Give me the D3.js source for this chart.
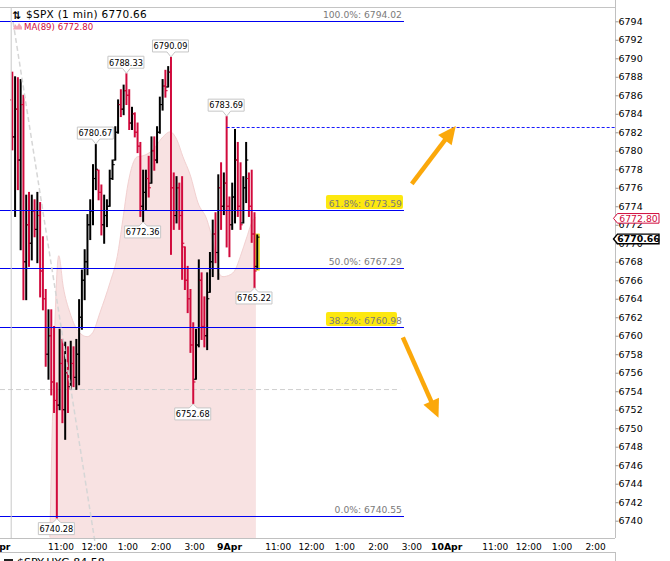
<!DOCTYPE html>
<html>
<head>
<meta charset="utf-8">
<script src="https://cdn.jsdelivr.net/npm/d3@7"></script>
<style>
  body { margin: 0; background: #fff; }
  svg { display: block; }
  text { font-family: "DejaVu Sans", Verdana, sans-serif; }
</style>
</head>
<body>
<svg id="chart" width="670" height="561"></svg>
<script>
// ---- data (5-minute bars, $SPX) ----
// sessions: start minute (trading minutes since 8Apr 9:30) and number of bars
var sessions = [{ start: 0, count: 78 }, { start: 390, count: 11 }];

var opens = [
  6785.5, 6781.5, 6784.5, 6779.0, 6785.0, 6768.0, 6772.0, 6770.0, 6773.5, 6771.5,
  6773.0, 6767.0, 6764.0, 6758.0, 6760.0, 6755.0, 6753.0, 6752.5, 6757.0, 6752.0,
  6756.0, 6754.5, 6757.0, 6755.5, 6758.0, 6762.0, 6766.0, 6768.0, 6772.0, 6773.5,
  6777.0, 6777.9, 6775.5, 6772.0, 6773.0, 6774.0, 6777.0, 6779.0, 6782.0, 6785.0,
  6784.5, 6786.5, 6786.0, 6783.0, 6784.0, 6782.0, 6780.5, 6774.0, 6775.5, 6777.0,
  6776.5, 6780.0, 6779.0, 6782.0, 6785.0, 6787.0, 6786.9, 6788.5, 6776.0, 6773.0,
  6776.0, 6773.0, 6769.6, 6766.0, 6764.0, 6759.0, 6755.3, 6759.0, 6766.0, 6761.0,
  6760.0, 6764.7, 6768.0, 6771.0, 6769.0, 6776.0, 6774.0, 6776.5,
  6774.0, 6772.0, 6775.0, 6779.0, 6774.0, 6772.2, 6776.0, 6777.0, 6774.0, 6771.0, 6767.5
];
var highs = [
  6788.5, 6788.0, 6787.9, 6787.7, 6786.0, 6775.2, 6775.5, 6775.2, 6774.7, 6775.5,
  6774.4, 6770.7, 6765.0, 6762.8, 6762.8, 6761.0, 6754.9, 6760.7, 6759.6, 6759.3,
  6758.8, 6759.4, 6758.8, 6759.6, 6763.9, 6767.1, 6769.3, 6773.1, 6774.7, 6778.5,
  6780.67, 6777.9, 6776.3, 6775.2, 6774.7, 6777.9, 6779.0, 6782.6, 6785.5, 6786.6,
  6787.1, 6788.33, 6786.6, 6784.7, 6784.1, 6783.0, 6780.9, 6777.9, 6777.9, 6779.4,
  6781.5, 6781.5, 6782.6, 6785.8, 6787.7, 6788.7, 6789.1, 6790.09, 6777.6, 6777.2,
  6776.5, 6777.2, 6769.6, 6767.5, 6765.0, 6761.4, 6760.7, 6768.2, 6766.8, 6764.2,
  6766.8, 6769.0, 6772.5, 6773.3, 6777.4, 6778.7, 6777.6, 6783.69,
  6775.0, 6776.5, 6782.3, 6780.9, 6778.7, 6777.2, 6780.9, 6777.6, 6777.9, 6773.3, 6770.9
];
var lows = [
  6780.1, 6772.9, 6775.8, 6769.3, 6763.9, 6763.9, 6767.5, 6768.2, 6770.7, 6767.9,
  6764.2, 6762.8, 6756.7, 6755.3, 6753.6, 6751.7, 6740.28, 6752.0, 6750.6, 6748.8,
  6751.7, 6754.2, 6754.5, 6754.2, 6754.7, 6760.7, 6763.9, 6766.6, 6770.4, 6772.0,
  6775.8, 6774.7, 6770.9, 6770.0, 6771.8, 6774.0, 6776.9, 6779.0, 6781.9, 6783.7,
  6783.9, 6785.0, 6782.3, 6782.3, 6781.5, 6779.8, 6772.9, 6772.36, 6773.6, 6775.0,
  6776.5, 6777.9, 6778.7, 6781.9, 6784.4, 6785.8, 6786.9, 6768.8, 6771.5, 6772.2,
  6771.5, 6766.1, 6765.0, 6762.5, 6758.2, 6752.68, 6755.3, 6758.8, 6759.6, 6758.8,
  6758.5, 6764.7, 6766.4, 6767.9, 6766.1, 6771.5, 6773.1, 6769.6,
  6768.55, 6771.5, 6772.2, 6772.9, 6771.5, 6772.2, 6774.4, 6772.9, 6770.1, 6765.22, 6767.2
];
var closes = [
  6781.5, 6784.5, 6779.0, 6785.0, 6768.0, 6772.0, 6770.0, 6773.5, 6771.5, 6773.0,
  6767.0, 6764.0, 6758.0, 6760.0, 6755.0, 6753.0, 6752.5, 6757.0, 6752.0, 6756.0,
  6754.5, 6757.0, 6755.5, 6758.0, 6762.0, 6766.0, 6768.0, 6772.0, 6773.5, 6777.0,
  6778.0, 6775.5, 6772.0, 6773.0, 6774.0, 6777.0, 6778.5, 6782.0, 6785.0, 6784.5,
  6786.5, 6786.0, 6783.0, 6784.0, 6782.0, 6780.5, 6774.0, 6775.5, 6777.0, 6776.0,
  6780.0, 6779.0, 6782.0, 6785.0, 6787.0, 6786.5, 6788.5, 6776.0, 6773.0, 6776.0,
  6773.0, 6770.0, 6766.0, 6764.0, 6759.0, 6755.0, 6759.0, 6766.0, 6761.0, 6760.0,
  6764.0, 6768.0, 6771.0, 6769.0, 6776.0, 6774.0, 6776.5, 6774.0,
  6772.0, 6775.0, 6779.0, 6774.0, 6772.0, 6776.0, 6779.0, 6774.0, 6771.0, 6767.0, 6770.66
];

// MA(89) shaded area (minute, value)
var maMinutes = [70, 86, 94, 106, 119, 137, 147, 160, 178, 191, 201, 210, 227, 237, 255, 273,
  286, 298, 309, 322, 336, 352, 363, 372, 381, 394, 403, 412, 424, 435, 440];
var maValues = [6738.2, 6768.65, 6765.3, 6762.5, 6760.66, 6759.9, 6760.34, 6762.5, 6765.74, 6768.55,
  6772.54, 6776.3, 6779.35, 6779.45, 6780.1, 6781.5, 6782.05, 6781.2, 6779.35, 6777.4, 6774.38,
  6772.54, 6770.06, 6766.93, 6766.39, 6766.6, 6767.14, 6768.55, 6770.71, 6772.54, 6772.80];

// Fibonacci retracement levels
var fibPct = ['100.0%', '61.8%', '50.0%', '38.2%', '0.0%'];
var fibPrice = [6794.02, 6773.59, 6767.29, 6760.98, 6740.55];
var fibMarked = [false, true, false, true, false];

// swing labels (bar indices)
var swingHighs = [30, 41, 57, 77];
var swingLows = [16, 47, 65, 87];

// drawn lines
var resistanceLevel = 6782.62;
var supportDash = 6754.18;
var trendLine = [[4, 6793.9], [152, 6737.3]];
var arrows = [
  { t0: 720, p0: 6776.43, t1: 799, p1: 6782.69 },
  { t0: 704, p0: 6759.83, t1: 768, p1: 6751.13 }
];

// axes
var priceTicks = [6740, 6742, 6744, 6746, 6748, 6750, 6752, 6754, 6756, 6758, 6760, 6762, 6764,
  6766, 6768, 6770, 6772, 6774, 6776, 6778, 6780, 6782, 6784, 6786, 6788, 6790, 6792, 6794];
var timeTicks = [0, 90, 150, 210, 270, 330, 390, 480, 540, 600, 660, 720, 780, 870, 930, 990, 1050];
var timeLabels = ['8Apr', '11:00', '12:00', '1:00', '2:00', '3:00', '9Apr', '11:00', '12:00',
  '1:00', '2:00', '3:00', '10Apr', '11:00', '12:00', '1:00', '2:00'];

var lastMA = 6772.80;
var lastClose = 6770.66;

// ---- drawing ----
var svg = d3.select('#chart');
var plot = { right: 615, top: 7, bottom: 538 };
var red = '#d10a3c';

var x = d3.scaleLinear().domain([0, 1050]).range([10.9, 595.5]);
var y = d3.scaleLinear().domain([6740, 6794]).range([520.7, 21.3]);

svg.append('defs').append('clipPath').attr('id', 'clip')
  .append('rect').attr('x', 0).attr('y', plot.top)
  .attr('width', plot.right).attr('height', plot.bottom - plot.top);

var bars = [];
sessions.forEach(function (s) {
  for (var k = 0; k < s.count; k++) bars.push({ t: s.start + k * 5 + 2.5 });
});
bars.forEach(function (b, i) {
  b.o = opens[i]; b.h = highs[i]; b.l = lows[i]; b.c = closes[i];
  b.up = i === 0 ? b.c >= b.o : b.c >= closes[i - 1];
});

var g = svg.append('g').attr('clip-path', 'url(#clip)');

// MA area
var ma = maMinutes.map(function (m, i) { return { t: m, v: maValues[i] }; });
g.append('path').datum(ma)
  .attr('d', d3.area().x(function (d) { return x(d.t); })
    .y0(plot.bottom).y1(function (d) { return y(d.v); }).curve(d3.curveMonotoneX))
  .attr('fill', '#f8e2e2');
g.append('path').datum(ma)
  .attr('d', d3.line().x(function (d) { return x(d.t); })
    .y(function (d) { return y(d.v); }).curve(d3.curveMonotoneX))
  .attr('fill', 'none').attr('stroke', '#f2d0d0').attr('stroke-width', 1);

// frame lines
svg.append('line').attr('x1', 0).attr('x2', plot.right).attr('y1', plot.top + 0.5).attr('y2', plot.top + 0.5)
  .attr('stroke', '#c4c4c4');
svg.append('line').attr('x1', x(0) + 0.3).attr('x2', x(0) + 0.3).attr('y1', plot.top).attr('y2', plot.bottom)
  .attr('stroke', '#c8c8c8');

// dashed support, trendline
g.append('line').attr('x1', 0).attr('x2', x(699)).attr('y1', y(supportDash)).attr('y2', y(supportDash))
  .attr('stroke', '#cfcfcf').attr('stroke-dasharray', '5,3');
svg.append('line')
  .attr('x1', x(trendLine[0][0])).attr('y1', y(trendLine[0][1]))
  .attr('x2', x(trendLine[1][0])).attr('y2', y(trendLine[1][1]))
  .attr('stroke', '#d6d6d6').attr('stroke-width', 1.5).attr('stroke-dasharray', '5,3');

// last bar highlight
var last = bars[bars.length - 1];
g.append('rect').attr('x', x(last.t) - 2.3).attr('width', 4.6)
  .attr('y', y(last.h) - 1).attr('height', y(last.l) - y(last.h) + 2)
  .attr('fill', '#fff24d').attr('stroke', '#e6d200').attr('stroke-width', 0.6);

// bars
var bg = g.append('g').attr('class', 'bars');
bars.forEach(function (b) {
  var cx = x(b.t), col = b.up ? '#000' : red;
  bg.append('line').attr('x1', cx).attr('x2', cx).attr('y1', y(b.h) - 0.5).attr('y2', y(b.l) + 0.5)
    .attr('stroke', col).attr('stroke-width', 2);
  bg.append('line').attr('x1', cx - 2.2).attr('x2', cx).attr('y1', y(b.o)).attr('y2', y(b.o))
    .attr('stroke', col).attr('stroke-width', 1.1);
  bg.append('line').attr('x1', cx).attr('x2', cx + 2.2).attr('y1', y(b.c)).attr('y2', y(b.c))
    .attr('stroke', col).attr('stroke-width', 1.1);
});

// fib lines and labels
var fibEnd = x(706);
fibPrice.forEach(function (p, i) {
  var yy = Math.round(y(p)) + 0.5;
  var label = fibPct[i] + ': ' + p.toFixed(2);
  if (fibMarked[i]) {
    var w = i === 3 ? 71 : 77;
    g.append('rect').attr('x', fibEnd - 78).attr('y', yy - 15.5).attr('width', w).attr('height', 14)
      .attr('rx', 2).attr('fill', '#fde80f');
  }
  g.append('line').attr('x1', 0).attr('x2', fibEnd).attr('y1', yy).attr('y2', yy)
    .attr('stroke', '#0000f0').attr('stroke-width', 1);
  g.append('text').attr('x', fibEnd - 2).attr('y', yy - 3.5).attr('text-anchor', 'end')
    .attr('font-size', 9.2).attr('fill', '#7a7a7a').text(label);
});

// resistance dashed
g.append('line').attr('x1', x(bars[77].t)).attr('x2', plot.right)
  .attr('y1', Math.round(y(resistanceLevel)) + 0.5).attr('y2', Math.round(y(resistanceLevel)) + 0.5)
  .attr('stroke', '#1a1aff').attr('stroke-dasharray', '3,2');

// swing labels
function swingLabel(i, isHigh) {
  var b = bars[i], cx = x(b.t), val = isHigh ? b.h : b.l;
  var tip = y(val) + (isHigh ? -0.5 : 0.5);
  var bw = 36, bh = 12, x0 = cx - bw / 2 - 0.5, x1 = cx + bw / 2 - 0.5;
  var path, ty;
  if (isHigh) {
    var yb = tip - 5, yt = yb - bh;
    path = 'M' + x0 + ',' + yt + 'H' + x1 + 'V' + yb + 'H' + (cx + 4) + 'L' + cx + ',' + tip +
      'L' + (cx - 4) + ',' + yb + 'H' + x0 + 'Z';
    ty = yt + 9.3;
  } else {
    var yt2 = tip + 4, yb2 = yt2 + bh;
    path = 'M' + x0 + ',' + yt2 + 'H' + (cx - 4) + 'L' + cx + ',' + tip + 'L' + (cx + 4) + ',' + yt2 +
      'H' + x1 + 'V' + yb2 + 'H' + x0 + 'Z';
    ty = yt2 + 9.3;
  }
  svg.append('path').attr('d', path).attr('fill', '#fff').attr('stroke', '#c6c6c6');
  svg.append('text').attr('x', cx - 0.5).attr('y', ty).attr('text-anchor', 'middle')
    .attr('font-size', 8.2).attr('fill', '#000').text(val.toFixed(2));
}
swingHighs.forEach(function (i) { swingLabel(i, true); });
swingLows.forEach(function (i) { swingLabel(i, false); });

// arrows
arrows.forEach(function (a) {
  var xa = x(a.t0), ya = y(a.p0), xb = x(a.t1), yb = y(a.p1);
  var dx = xb - xa, dy = yb - ya, len = Math.sqrt(dx * dx + dy * dy);
  var ux = dx / len, uy = dy / len, nx = -uy, ny = ux;
  var bx = xb - ux * 18, by = yb - uy * 18;
  svg.append('line').attr('x1', xa).attr('y1', ya).attr('x2', bx + ux * 2).attr('y2', by + uy * 2)
    .attr('stroke', '#fba80a').attr('stroke-width', 4.5);
  svg.append('path').attr('d', 'M' + xb + ',' + yb + 'L' + (bx + nx * 8.5) + ',' + (by + ny * 8.5) +
    'L' + (bx - nx * 8.5) + ',' + (by - ny * 8.5) + 'Z').attr('fill', '#fba80a');
});

// right axis
svg.append('line').attr('x1', plot.right + 0.5).attr('x2', plot.right + 0.5).attr('y1', 0).attr('y2', plot.bottom)
  .attr('stroke', '#c0c0c0');
var ax = svg.append('g').attr('transform', 'translate(' + (plot.right + 0.5) + ',0)')
  .call(d3.axisRight(y).tickValues(priceTicks).tickSize(3).tickPadding(0).tickFormat(d3.format('d')));
ax.select('.domain').remove();
ax.selectAll('line').attr('stroke', '#999');
ax.selectAll('text').attr('font-size', 9.5).attr('fill', '#000')
  .attr('font-family', '"DejaVu Sans", Verdana, sans-serif');

// price tags
function tag(price, color, bold, dy) {
  var cy = y(price) + dy;
  svg.append('path').attr('d', 'M' + 613.5 + ',' + cy + 'L' + 617.5 + ',' + (cy - 4.8) + 'H659V' + (cy + 4.8) +
    'H617.5Z').attr('fill', '#fff').attr('stroke', color).attr('stroke-width', bold ? 1.4 : 1);
  svg.append('text').attr('x', 638.5).attr('y', cy + 3.4).attr('text-anchor', 'middle')
    .attr('font-size', 9.3).attr('font-weight', bold ? 'bold' : 'normal').attr('fill', color)
    .text(price.toFixed(2));
}
tag(lastMA, red, false, 1);
tag(lastClose, '#000', true, 1.8);

// bottom axis
svg.append('line').attr('x1', 0).attr('x2', plot.right).attr('y1', plot.bottom + 0.5).attr('y2', plot.bottom + 0.5)
  .attr('stroke', '#c0c0c0');
svg.append('g').selectAll('text').data(timeTicks).enter().append('text')
  .attr('x', function (d, i) {
    var isDay = /Apr/.test(timeLabels[i]);
    if (i === 0) return x(d) - 0.5;
    return isDay ? x(d) + 1.5 : x(d);
  })
  .attr('y', 550)
  .attr('text-anchor', function (d, i) { return i === 0 ? 'end' : 'middle'; })
  .attr('font-size', function (d, i) { return /Apr/.test(timeLabels[i]) ? 9.3 : 9; })
  .attr('font-weight', function (d, i) { return /Apr/.test(timeLabels[i]) ? 'bold' : 'normal'; })
  .attr('fill', '#000')
  .text(function (d, i) { return timeLabels[i]; });

// lower panel header
svg.append('line').attr('x1', 0).attr('x2', plot.right).attr('y1', 552.5).attr('y2', 552.5).attr('stroke', '#c0c0c0');
svg.append('line').attr('x1', plot.right + 0.5).attr('x2', plot.right + 0.5).attr('y1', 552).attr('y2', 561).attr('stroke', '#c0c0c0');
svg.append('rect').attr('x', 4).attr('y', 559).attr('width', 9).attr('height', 3).attr('fill', '#222');
svg.append('text').attr('x', 17).attr('y', 566).attr('font-size', 11).attr('fill', '#000').text('$SPY:HYG 84.58');

// title and legend
svg.append('text').attr('x', 12.5).attr('y', 18.5).attr('font-size', 10.5).attr('font-weight', 'bold')
  .attr('fill', '#000').text('\u21C5');
svg.append('text').attr('x', 26).attr('y', 18.3).attr('font-size', 10.5).attr('letter-spacing', 0.3)
  .attr('fill', '#000').text('$SPX (1 min) ' + lastClose.toFixed(2));
svg.append('path').attr('d', 'M13,29.5L15,24L17,26.5L19,23L22,27V29.5Z').attr('fill', '#f2a9b6');
svg.append('text').attr('x', 24).attr('y', 29.5).attr('font-size', 8.6).attr('fill', red)
  .text('MA(89) ' + lastMA.toFixed(2));
</script>
</body>
</html>
